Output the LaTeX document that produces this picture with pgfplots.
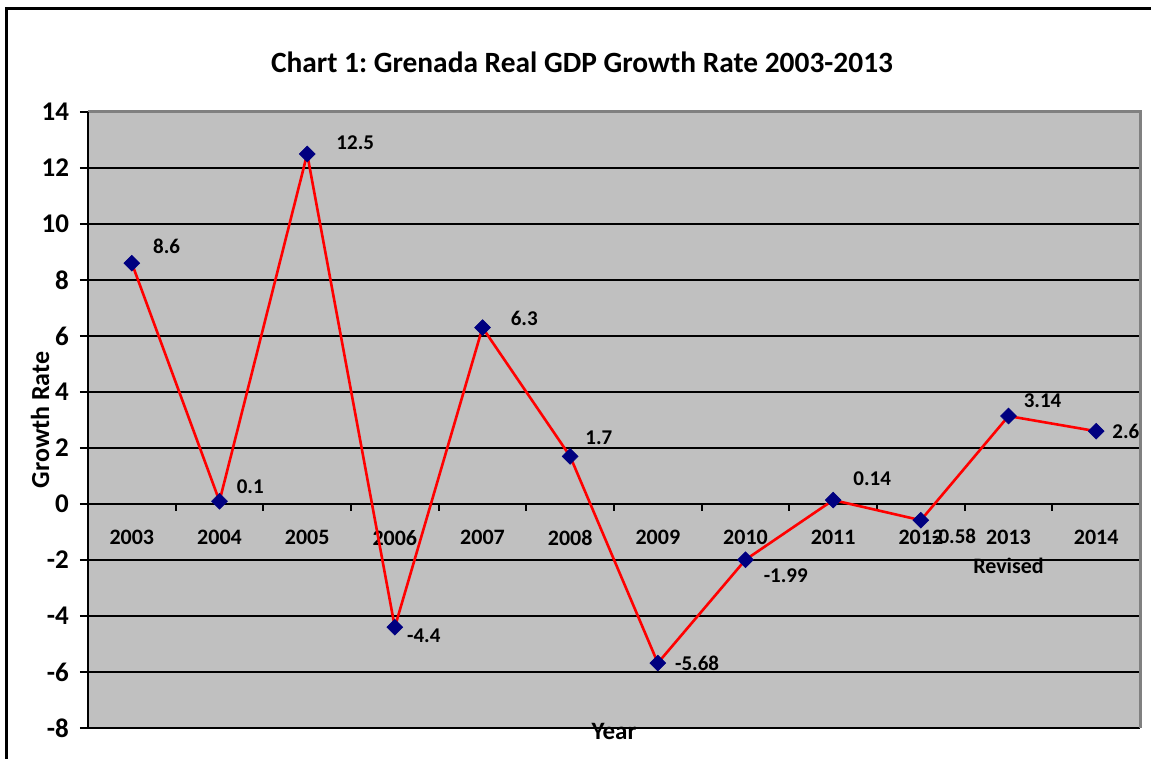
\documentclass[border=0pt]{standalone}
\usepackage{fontspec}
\setmainfont{Carlito}
\usepackage{pgfplots}
\pgfplotsset{compat=1.18}
\usepackage{pgfplotstable}

\definecolor{plotgray}{HTML}{C0C0C0}
\definecolor{edgegray}{HTML}{808080}
\definecolor{marknavy}{HTML}{000080}

% x = category index, dx/dy = label offset in pt
\pgfplotstableread{
x  y     dx    dy    lab
0  8.6   10.5  8.5   8.6
1  0.1   8.5   7.5   0.1
2  12.5  14.5  5.5   12.5
3  -4.4  6     -4.5  -4.4
4  6.3   14    4.5   6.3
5  1.7   7.5   9.5   1.7
6  -5.68 8.5   0     -5.68
7  -1.99 9     -8    -1.99
8  0.14  10    10.5  0.14
9  -0.58 5.5   -8    -0.58
10 3.14  7.5   7.5   3.14
11 2.6   8     0     2.6
}\gdpdata

\begin{document}
\frenchspacing
\begin{tikzpicture}
\begin{axis}[
    at={(0,0)}, anchor=south west,
    width=526pt, height=308pt, scale only axis,
    xmin=-0.5, xmax=11.5,
    ymin=-8, ymax=14,
    axis x line*=middle,
    axis y line*=left,
    hide obscured x ticks=false,
    xtick={0,...,11},
    xticklabels={2003,2004,2005,2006,2007,2008,2009,2010,2011,2012,{2013\\Revised},2014},
    minor xtick={-0.5,0.5,...,11.5},
    ytick={-8,-6,...,14},
    tick align=outside,
    major tick length=4pt,
    minor tick length=3.5pt,
    every tick/.style={black, line width=1pt},
    every major x tick/.append style={draw=none},
    ymajorgrids,
    grid style={black, line width=1pt},
    axis line style={black, line width=1pt},
    axis background/.style={fill=plotgray},
    clip=false,
    /pgf/number format/assume math mode=true,
    yticklabel style={font=\fontsize{13.5}{16}\selectfont\bfseries, xshift=-2pt},
    xticklabel style={font=\fontsize{11}{14.5}\selectfont\bfseries, align=center,
        anchor=north, inner sep=0pt, yshift=-9pt},
    title={Chart 1: Grenada Real GDP Growth Rate 2003-2013},
    title style={at={(axis description cs:0.4696,1.0615)}, anchor=center,
        font=\fontsize{14.7}{17}\selectfont\bfseries},
    ylabel={Growth Rate},
    ylabel style={at={(axis description cs:-0.0456,0.5)}, anchor=center,
        font=\fontsize{13}{15}\selectfont\bfseries},
    xlabel={Year},
    xlabel style={at={(axis description cs:0.5,-0.005)}, anchor=center,
        font=\fontsize{12.5}{14}\selectfont\bfseries},
]
\addplot[red, line width=1.3pt, mark=square*, mark size=2.8pt,
    mark options={rotate=45, fill=marknavy, draw=marknavy, line width=0.3pt},
    visualization depends on={\thisrow{dx}\as\dx},
    visualization depends on={\thisrow{dy}\as\dy},
    nodes near coords, point meta=explicit symbolic,
    nodes near coords style={anchor=west, inner sep=0pt, xshift=\dx pt, yshift=\dy pt,
        text=black, font=\fontsize{10.5}{12}\selectfont\bfseries}]
    table[x=x, y=y, meta=lab] {\gdpdata};
\draw[edgegray, line width=1.5pt] (rel axis cs:0,1) -- (rel axis cs:1,1) -- (rel axis cs:1,0);
\draw[black, line width=1pt] (rel axis cs:0,0) -- (rel axis cs:0,1);
\end{axis}
\path[use as bounding box] (-44pt,-15.5pt) rectangle (531.5pt,364pt);
\draw[black, line width=1.5pt] (-40.5pt,-15.5pt) -- (-40.5pt,359.5pt) -- (531.5pt,359.5pt);
\end{tikzpicture}
\end{document}
